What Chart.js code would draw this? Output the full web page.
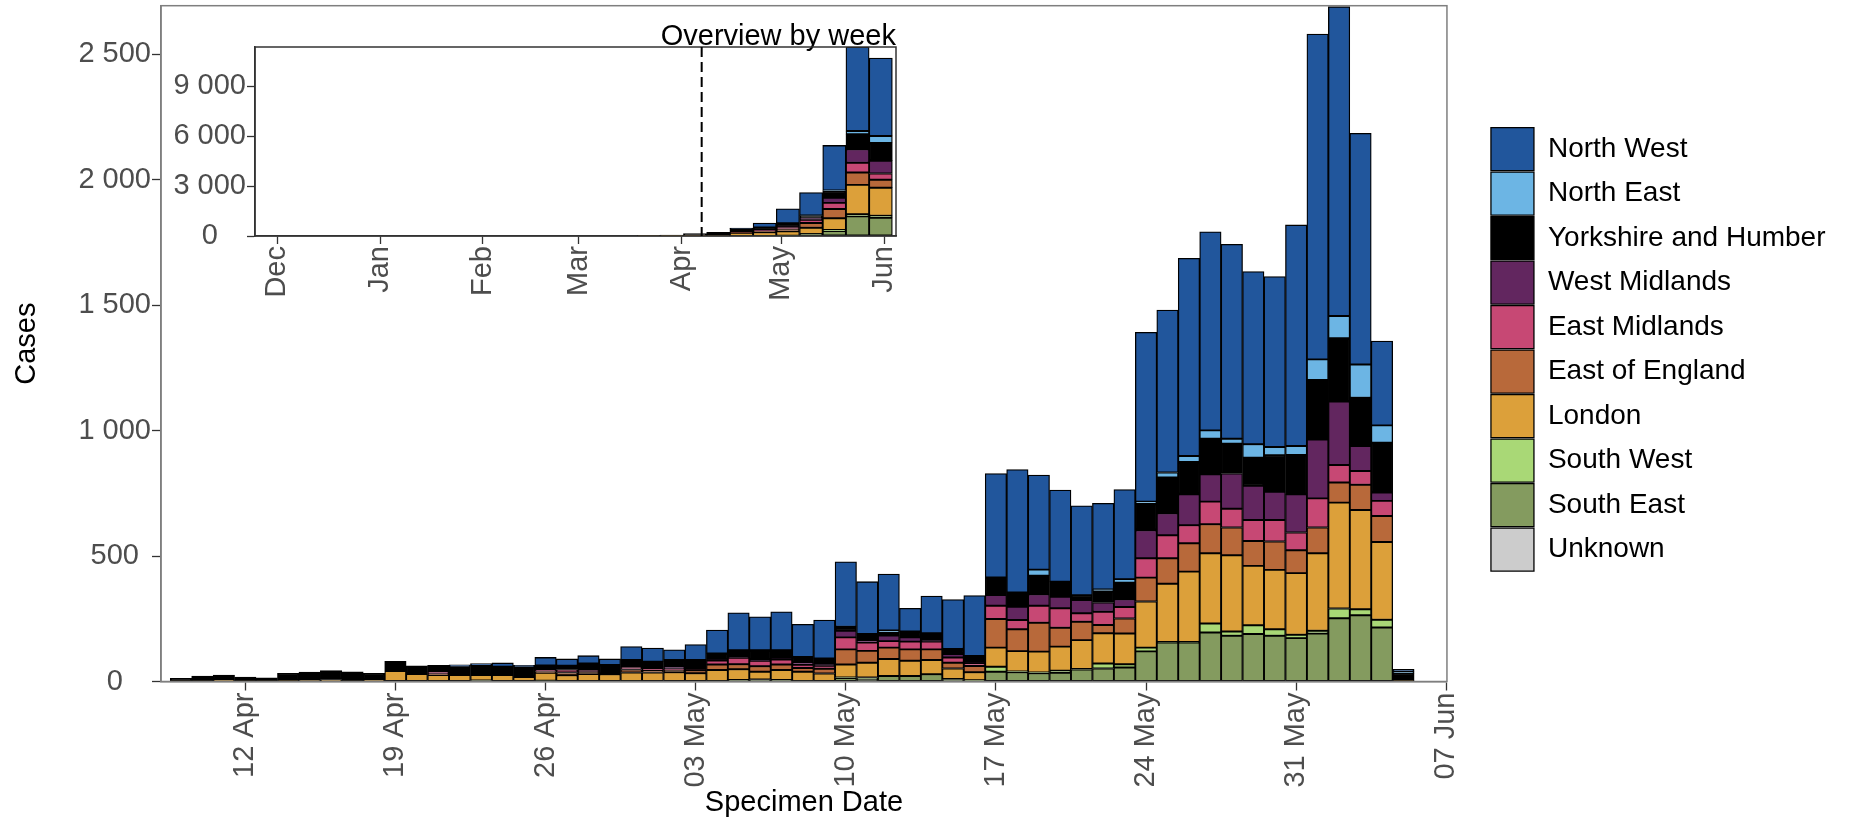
<!DOCTYPE html>
<html lang="en">
<head>
<meta charset="UTF-8">
<title>Cases by specimen date</title>
<style>
  body { margin: 0; background: #fff; }
  #wrap { position: relative; width: 1856px; height: 820px; overflow: hidden; }
  #main { position: absolute; left: 0; top: 0; }
  #inset { position: absolute; left: 100px; top: -2px; }
</style>
</head>
<body>
<div id="wrap">
  <canvas id="main" width="1856" height="820"></canvas>
  <canvas id="inset" width="806" height="318"></canvas>
</div>

<script src="https://cdn.jsdelivr.net/npm/chart.js"></script>
<script>
const FONT = "'Liberation Sans', Arial, sans-serif";
Chart.defaults.font.family = FONT;

// daily bars, 9 Apr - 5 Jun 2020
const days = [
  '2020-04-09','2020-04-10','2020-04-11','2020-04-12','2020-04-13','2020-04-14','2020-04-15','2020-04-16','2020-04-17','2020-04-18',
  '2020-04-19','2020-04-20','2020-04-21','2020-04-22','2020-04-23','2020-04-24','2020-04-25','2020-04-26','2020-04-27','2020-04-28',
  '2020-04-29','2020-04-30','2020-05-01','2020-05-02','2020-05-03','2020-05-04','2020-05-05','2020-05-06','2020-05-07','2020-05-08',
  '2020-05-09','2020-05-10','2020-05-11','2020-05-12','2020-05-13','2020-05-14','2020-05-15','2020-05-16','2020-05-17','2020-05-18',
  '2020-05-19','2020-05-20','2020-05-21','2020-05-22','2020-05-23','2020-05-24','2020-05-25','2020-05-26','2020-05-27','2020-05-28',
  '2020-05-29','2020-05-30','2020-05-31','2020-06-01','2020-06-02','2020-06-03','2020-06-04','2020-06-05'
];

// stack order, bottom to top
const regions = ['Unknown', 'South East', 'South West', 'London', 'East of England',
  'East Midlands', 'West Midlands', 'Yorkshire and Humber', 'North East', 'North West'];
const colours = ['#CCCCCC', '#849B5F', '#A9D876', '#DCA03A', '#B8693A',
  '#C74874', '#62265F', '#000000', '#6CB5E4', '#21569C'];

const dUnknown = [0,0,0,0,0,0,0,0,0,0, 0,0,0,0,0,0,0,0,0,0, 0,0,0,0,0,0,0,0,0,0, 0,0,0,0,0,0,0,0,0,0, 0,0,0,0,0,0,0,0,0,0, 0,0,0,0,0,0,0,0];
const dSouthEast = [0,0,0,0,0,0,0,0,0,0, 0,0,0,0,4,0,0,3,0,0, 0,2,0,0,0,2,6,8,6,2, 0,14,10,22,22,29,8,5,39,37, 33,35,48,52,56,120,155,155,195,182, 189,182,173,191,252,264,215,0];
const dSouthWest = [0,0,0,0,0,0,0,0,0,0, 0,0,0,0,0,0,0,0,0,0, 0,0,0,0,0,0,0,0,0,0, 0,2,6,0,0,0,2,0,20,3, 3,8,2,20,13,15,3,3,36,17, 35,26,13,11,39,24,31,0];
const dLondon = [2,2,6,2,2,3,4,8,2,6, 42,30,26,26,22,26,18,32,25,30, 29,34,36,37,33,44,43,31,40,37, 32,52,59,68,61,57,42,32,76,81, 83,96,115,120,122,184,232,280,280,304, 237,237,246,309,422,396,310,3];
const dEastEngland = [0,0,0,0,0,0,0,0,0,0, 0,0,4,0,0,0,0,5,11,8, 0,12,10,10,12,22,20,22,22,15, 19,60,47,45,45,42,23,25,114,87, 115,75,73,33,60,95,101,113,116,111, 99,113,91,103,80,100,104,0];
const dEastMidlands = [0,0,0,0,0,0,0,0,0,0, 0,0,9,0,0,0,0,5,12,8, 0,10,3,3,2,16,26,22,20,13, 12,48,33,26,31,31,21,10,53,37, 68,78,34,53,46,77,92,72,90,75, 84,86,71,116,70,55,60,0];
const dWestMidlands = [0,0,0,0,0,0,0,0,0,0, 0,0,0,0,0,0,0,0,0,0, 0,0,0,8,0,2,3,3,3,8, 5,26,10,22,17,5,14,2,43,53, 46,46,53,37,31,112,88,123,109,140, 136,112,152,235,253,100,33,0];
const dYorkshire = [11,20,20,16,13,30,34,36,37,27, 38,32,25,32,38,33,40,19,15,26, 37,28,30,28,39,26,27,39,34,23, 24,16,24,14,23,28,20,28,70,57, 74,60,19,46,66,106,142,129,142,119, 112,146,157,237,252,192,199,30];
const dNorthEast = [0,0,0,0,0,0,0,0,0,0, 0,0,0,0,0,0,0,0,0,0, 0,0,0,0,0,0,0,0,0,0, 0,0,0,6,0,0,0,0,0,0, 24,0,0,6,14,8,20,24,33,20, 54,33,36,82,89,133,69,8];
const dNorthWest = [0,0,0,0,0,0,0,0,0,0, 0,0,0,8,7,15,6,32,27,31, 24,53,54,40,61,93,149,133,153,130, 153,259,209,225,93,149,197,241,414,490, 377,365,356,343,357,675,648,788,792,775, 688,679,881,1297,1233,921,336,8];

// weekly overview (weeks starting Sunday)
const weeks = ['2020-03-22','2020-03-29','2020-04-05','2020-04-12','2020-04-19','2020-04-26',
  '2020-05-03','2020-05-10','2020-05-17','2020-05-24','2020-05-31'];
const wUnknown = [0,0,0,0,0,0,0,0,0,0,0];
const wSouthEast = [0,0,0,0,4,5,24,110,300,1178,1095];
const wSouthWest = [0,0,0,0,0,0,0,10,69,135,118];
const wLondon = [5,10,15,27,190,223,260,371,693,1754,1686];
const wEastEngland = [0,0,0,0,4,56,132,287,557,748,478];
const wEastMidlands = [0,0,0,0,9,41,111,200,369,576,372];
const wWestMidlands = [0,0,0,0,0,8,24,96,309,820,773];
const wYorkshire = [20,40,125,193,238,183,212,153,392,896,1067];
const wNorthEast = [0,0,0,0,0,0,0,6,44,192,417];
const wNorthWest = [0,0,0,0,36,261,872,1373,2702,5045,4676];

const mainTicksY = [0, 500, 1000, 1500, 2000, 2500];
const mainTicksX = ['2020-04-12','2020-04-19','2020-04-26','2020-05-03','2020-05-10','2020-05-17','2020-05-24','2020-05-31','2020-06-07'];
const insetTicksY = [0, 3000, 6000, 9000];
const insetTicksX = ['2019-12-01','2020-01-01','2020-02-01','2020-03-01','2020-04-01','2020-05-01','2020-06-01'];
const windowStart = '2020-04-07';

const daily = [dUnknown, dSouthEast, dSouthWest, dLondon, dEastEngland, dEastMidlands, dWestMidlands, dYorkshire, dNorthEast, dNorthWest];
const weekly = [wUnknown, wSouthEast, wSouthWest, wLondon, wEastEngland, wEastMidlands, wWestMidlands, wYorkshire, wNorthEast, wNorthWest];

const MONTHS = ['Jan','Feb','Mar','Apr','May','Jun','Jul','Aug','Sep','Oct','Nov','Dec'];
const dayNum = s => Date.parse(s + 'T00:00:00Z') / 86400000;
const dateOf = v => new Date(Math.round(v) * 86400000);
const fmtDay = v => { const d = dateOf(v); return String(d.getUTCDate()).padStart(2, '0') + ' ' + MONTHS[d.getUTCMonth()]; };
const fmtMonth = v => MONTHS[dateOf(v).getUTCMonth()];
const fmtNum = v => String(v).replace(/\B(?=(\d{3})+(?!\d))/g, ' ');

const tickFont = { family: FONT, size: 29 };
const titleFont = { family: FONT, size: 29 };

function makeSets(xs, table) {
  return regions.map((r, k) => ({
    label: r,
    data: xs.map((d, i) => ({ x: dayNum(d), y: table[k][i] })),
    backgroundColor: colours[k],
    borderColor: '#000',
    borderWidth: 1.3,
    borderSkipped: false,
    barPercentage: 1,
    categoryPercentage: 1
  }));
}

// drop the label overhang padding so the plot box sits where we want it
const noPadX = h => s => { s.height = h; s.paddingLeft = 0; s.paddingRight = 0; };
const noPadY = w => s => { s.width = w; s.paddingTop = 0; s.paddingBottom = 0; };

// box around the plot panel
const frame = colour => ({
  id: 'frame',
  afterDatasetsDraw(chart) {
    const { ctx, chartArea: a } = chart;
    ctx.save();
    ctx.strokeStyle = colour;
    ctx.lineWidth = 1.5;
    ctx.strokeRect(a.left, a.top, a.right - a.left, a.bottom - a.top);
    ctx.restore();
  }
});

// push the legend away from the panel
const legendGap = {
  id: 'legendGap',
  afterLayout(chart) {
    chart.legend.left += 42.5;
    chart.legend.right += 42.5;
  }
};

// main chart
new Chart(document.getElementById('main'), {
  type: 'bar',
  data: { datasets: makeSets(days, daily) },
  options: {
    responsive: false,
    animation: false,
    devicePixelRatio: 1,
    layout: { padding: { left: 0, top: 5.7, right: 63, bottom: 0 } },
    plugins: {
      tooltip: { enabled: false },
      legend: {
        position: 'right',
        fullSize: false,
        reverse: true,
        title: { display: true, text: ' ', font: { size: 1, lineHeight: 1 }, padding: { top: 0, bottom: 10.5 } },
        labels: { boxWidth: 43, boxHeight: 43, padding: 1.5, color: '#000', font: { family: FONT, size: 28 } }
      }
    },
    scales: {
      x: {
        type: 'linear', stacked: true, offset: false,
        min: dayNum('2020-04-12') - 3.93,
        max: dayNum('2020-06-07') + 0.03,
        afterBuildTicks: s => { s.ticks = mainTicksX.map(d => ({ value: dayNum(d) })); },
        afterFit: noPadX(138.5),
        ticks: { autoSkip: false, minRotation: 90, maxRotation: 90, padding: 2, color: '#4D4D4D', font: tickFont, callback: v => fmtDay(v) },
        grid: { offset: false, drawOnChartArea: false, drawTicks: true, tickLength: 9, tickColor: '#333', tickWidth: 1.3 },
        border: { display: true, color: '#7F7F7F', width: 1.5 },
        title: { display: true, text: 'Specimen Date', color: '#000', font: titleFont, padding: { top: 0, bottom: 0 } }
      },
      y: {
        stacked: true, min: 0, max: 2694,
        afterBuildTicks: s => { s.ticks = mainTicksY.map(v => ({ value: v })); },
        afterFit: noPadY(161),
        ticks: { padding: 1, crossAlign: 'center', color: '#4D4D4D', font: tickFont, callback: v => fmtNum(v) },
        grid: { drawOnChartArea: false, drawTicks: true, tickLength: 9, tickColor: '#333', tickWidth: 1.3 },
        border: { display: true, color: '#7F7F7F', width: 1.5 },
        title: { display: true, text: 'Cases', color: '#000', font: titleFont, padding: { top: 9.5, bottom: 0 } }
      }
    }
  },
  plugins: [frame('#7F7F7F'), legendGap]
});

// dashed marker for the start of the daily window
const windowLine = {
  id: 'windowLine',
  afterDatasetsDraw(chart) {
    const { ctx, chartArea, scales } = chart;
    const x = scales.x.getPixelForValue(dayNum(windowStart));
    ctx.save();
    ctx.strokeStyle = '#000';
    ctx.lineWidth = 2;
    ctx.setLineDash([10, 5]);
    ctx.beginPath();
    ctx.moveTo(x, chartArea.top);
    ctx.lineTo(x, chartArea.bottom);
    ctx.stroke();
    ctx.restore();
  }
};

// inset: weekly overview
new Chart(document.getElementById('inset'), {
  type: 'bar',
  data: { datasets: makeSets(weeks, weekly) },
  options: {
    responsive: false,
    animation: false,
    devicePixelRatio: 1,
    layout: { padding: { left: 0, top: 0, right: 10, bottom: 0 } },
    plugins: {
      tooltip: { enabled: false },
      legend: { display: false },
      title: {
        display: true, text: 'Overview by week', align: 'end', color: '#000',
        font: { family: FONT, size: 29, weight: 'normal', lineHeight: 1 },
        padding: { top: 24, bottom: -4 }
      }
    },
    scales: {
      x: {
        type: 'linear', stacked: true, offset: false,
        min: dayNum('2019-12-01') - 6.7,
        max: dayNum('2020-06-01') + 3.6,
        afterBuildTicks: s => { s.ticks = insetTicksX.map(d => ({ value: dayNum(d) })); },
        afterFit: noPadX(80),
        ticks: { autoSkip: false, minRotation: 90, maxRotation: 90, padding: 2, color: '#4D4D4D', font: tickFont, callback: v => fmtMonth(v) },
        grid: { offset: false, drawOnChartArea: false, drawTicks: true, tickLength: 8, tickColor: '#333', tickWidth: 1.3 },
        border: { display: true, color: '#333', width: 1.5 }
      },
      y: {
        stacked: true, min: 0, max: 11344,
        afterBuildTicks: s => { s.ticks = insetTicksY.map(v => ({ value: v })); },
        afterFit: noPadY(155),
        ticks: { padding: 1, crossAlign: 'center', color: '#4D4D4D', font: tickFont, callback: v => fmtNum(v) },
        grid: { drawOnChartArea: false, drawTicks: true, tickLength: 8, tickColor: '#333', tickWidth: 1.3 },
        border: { display: true, color: '#333', width: 1.5 }
      }
    }
  },
  plugins: [frame('#333'), windowLine]
});
</script>
</body>
</html>
